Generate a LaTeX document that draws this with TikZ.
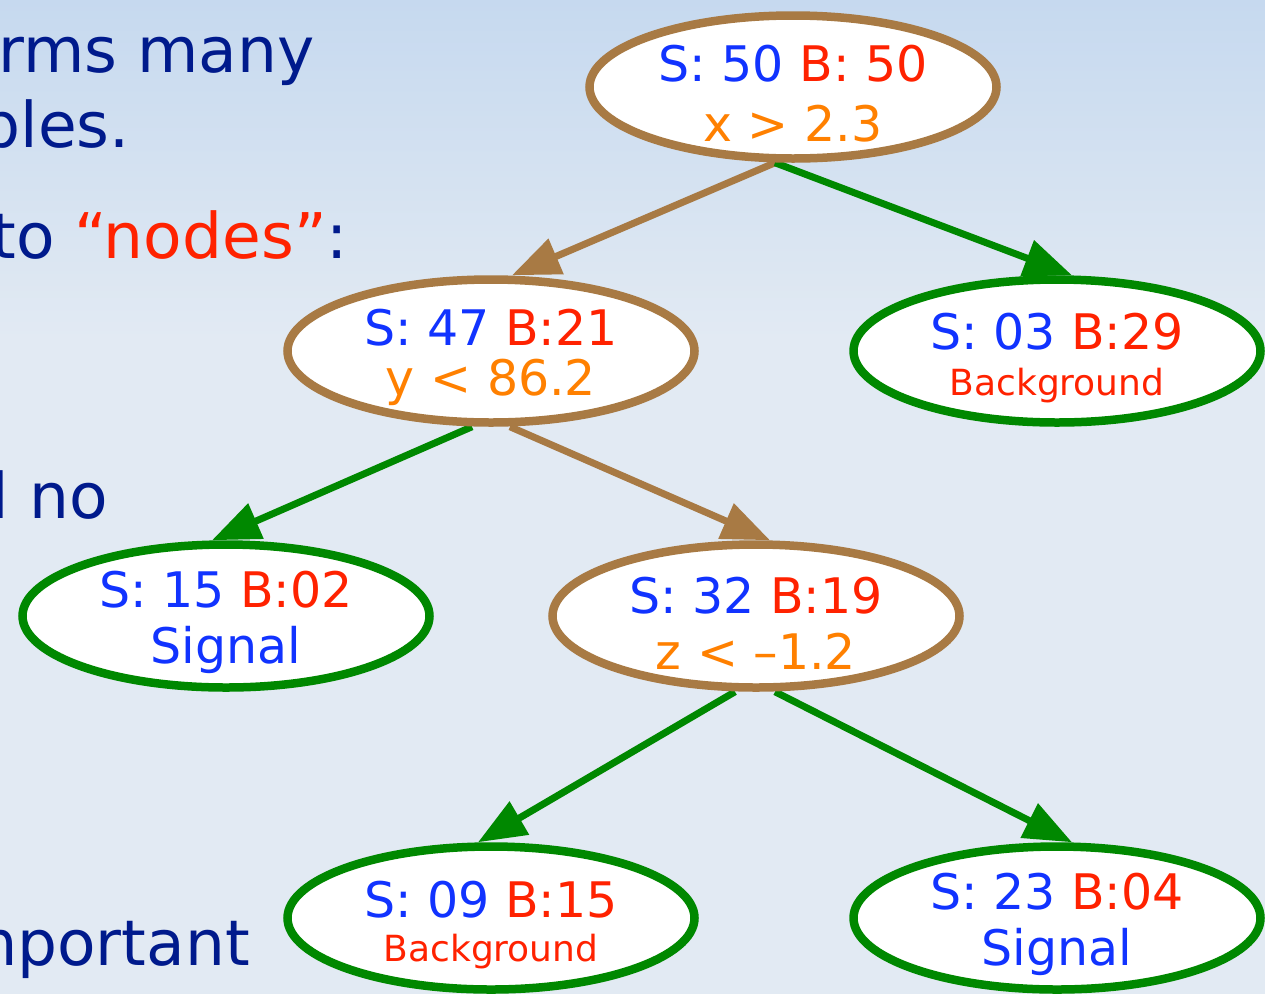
\documentclass[tikz,border=0pt]{standalone}
\usepackage{fontspec}
\setmainfont{DejaVu Sans}
\usetikzlibrary{shapes.geometric,arrows.meta}
\definecolor{slidenavy}{RGB}{0,26,140}
\definecolor{sigblue}{RGB}{17,51,255}
\definecolor{bkgred}{RGB}{255,34,0}
\definecolor{cutorange}{RGB}{255,128,0}
\definecolor{cutbrown}{RGB}{168,122,68}
\definecolor{leafgreen}{RGB}{0,136,0}
\definecolor{bgtop}{RGB}{198,217,239}
\definecolor{bgbottom}{RGB}{226,234,243}
\newcommand{\rowstrut}{\rule{0pt}{50pt}}
\pgfdeclarelayer{bg}
\pgfdeclarelayer{edges}
\pgfsetlayers{bg,edges,main}

\begin{document}
\begin{tikzpicture}[x=1pt,y=-1pt,
    leaf/.style={ellipse,draw=leafgreen,line width=8.5pt,fill=white,minimum width=407pt,minimum height=143pt,inner xsep=0pt,inner ysep=-30pt,align=center,font=\fontsize{49}{56}\selectfont},
    cutnode/.style={leaf,draw=cutbrown},
    slidetext/.style={anchor=base east,inner sep=0pt,text=slidenavy,font=\fontsize{63}{72}\selectfont},
    yesbranch/.style={draw=leafgreen,line width=7pt,-{Triangle[length=48pt,width=37pt]}},
    nobranch/.style={yesbranch,draw=cutbrown}]
    \useasboundingbox (0,0) rectangle (1265,994);
    \begin{pgfonlayer}{bg}
        \shade [top color=bgtop,bottom color=bgbottom] (0,0) rectangle (1265,340);
        \fill [bgbottom] (0,340) rectangle (1265,994);
    \end{pgfonlayer}
    \node [slidetext] (many) at (315,72) {rms many};
    \node [slidetext] (bles) at (130,147) {bles.};
    \node [slidetext] (intonodes) at (348,258) {to \textcolor{bkgred}{“nodes”}:};
    \node [slidetext] (andno) at (108,518) {l no};
    \node [slidetext] (important) at (250,965) {mportant};
    \node [cutnode] (root) at (793,87) {\rowstrut\textcolor{sigblue}{S: 50} \textcolor{bkgred}{B: 50}\\[4pt] \textcolor{cutorange}{x > 2.3}};
    \node [cutnode] (n47) at (491,351) {\rowstrut\textcolor{sigblue}{S: 47} \textcolor{bkgred}{B:21}\\[-6pt] \textcolor{cutorange}{y < 86.2}};
    \node [leaf] (n03) at (1057,351) {\rowstrut\textcolor{sigblue}{S: 03} \textcolor{bkgred}{B:29}\\[-10pt] \textcolor{bkgred}{\fontsize{36}{42}\selectfont Background}};
    \node [leaf] (n15) at (226,616) {\rowstrut\textcolor{sigblue}{S: 15} \textcolor{bkgred}{B:02}\\ \textcolor{sigblue}{Signal}};
    \node [cutnode] (n32) at (756,616) {\rowstrut\textcolor{sigblue}{S: 32} \textcolor{bkgred}{B:19}\\ \textcolor{cutorange}{z < –1.2}};
    \node [leaf] (n09) at (491,918) {\rowstrut\textcolor{sigblue}{S: 09} \textcolor{bkgred}{B:15}\\[-12pt] \textcolor{bkgred}{\fontsize{36}{42}\selectfont Background}};
    \node [leaf] (n23) at (1057,918) {\rowstrut\textcolor{sigblue}{S: 23} \textcolor{bkgred}{B:04}\\ \textcolor{sigblue}{Signal}};
    \begin{pgfonlayer}{edges}
        \draw [nobranch] ([xshift=-18pt]root.south) -- ([xshift=21pt]n47.north);
        \draw [yesbranch] ([xshift=-18pt]root.south) -- ([xshift=15pt]n03.north);
        \draw [yesbranch] ([xshift=-19pt]n47.south) -- ([xshift=-14pt]n15.north);
        \draw [nobranch] ([xshift=19pt]n47.south) -- ([xshift=14pt]n32.north);
        \draw [yesbranch] ([xshift=-21pt]n32.south) -- ([xshift=-13pt]n09.north);
        \draw [yesbranch] ([xshift=19pt]n32.south) -- ([xshift=15pt]n23.north);
    \end{pgfonlayer}
\end{tikzpicture}
\end{document}
